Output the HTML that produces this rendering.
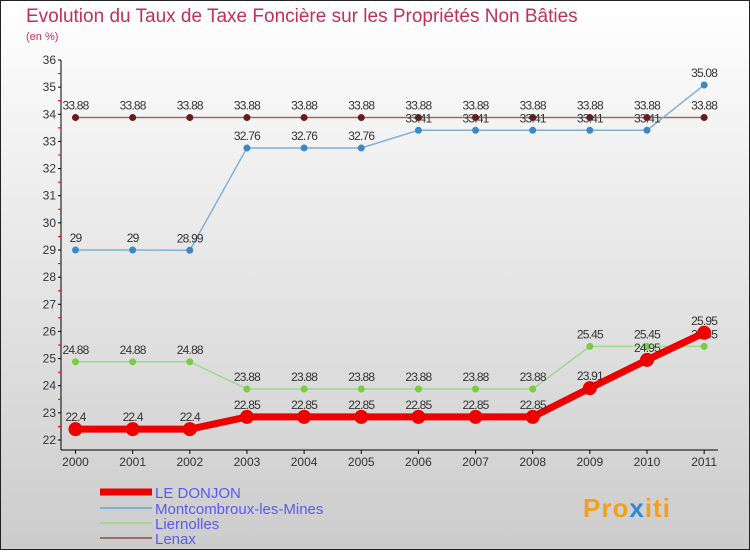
<!DOCTYPE html>
<html><head><meta charset="utf-8"><style>
body{margin:0;width:750px;height:550px;overflow:hidden;font-family:"Liberation Sans",sans-serif}
</style></head><body>
<svg width="750" height="550" xmlns="http://www.w3.org/2000/svg" font-family="Liberation Sans, sans-serif">
<defs><linearGradient id="bg" x1="0" y1="0" x2="0" y2="1"><stop offset="0" stop-color="#ffffff"/><stop offset="1" stop-color="#cccccc"/></linearGradient></defs>
<rect x="0.5" y="0.5" width="749" height="549" fill="url(#bg)" stroke="#222"/>
<text x="26" y="22" font-size="19" fill="#c0305a">Evolution du Taux de Taxe Foncière sur les Propriétés Non Bâties</text>
<text x="26" y="40" font-size="11" fill="#c0305a">(en %)</text>
<g id="axes"></g>
<g id="series"></g>
<g id="legend"></g>
<text x="583" y="517" font-size="26" font-weight="bold" fill="#f0a020" letter-spacing="1">Pro<tspan fill="#2a8ad8">x</tspan>iti</text>
</svg>
<script>
const years=[2000,2001,2002,2003,2004,2005,2006,2007,2008,2009,2010,2011];
const yTicks=[22,23,24,25,26,27,28,29,30,31,32,33,34,35,36];
const donjon=[22.4,22.4,22.4,22.85,22.85,22.85,22.85,22.85,22.85,23.91,24.95,25.95];
const montcombroux=[29,29,28.99,32.76,32.76,32.76,33.41,33.41,33.41,33.41,33.41,35.08];
const liernolles=[24.88,24.88,24.88,23.88,23.88,23.88,23.88,23.88,23.88,25.45,25.45,25.45];
const lenax=[33.88,33.88,33.88,33.88,33.88,33.88,33.88,33.88,33.88,33.88,33.88,33.88];
const NS="http://www.w3.org/2000/svg";
const X=i=>75.5+i*57.15;
const Y=v=>440-(v-22)*(380/14);
function mk(p,t,a){const e=document.createElementNS(NS,t);for(const k in a)e.setAttribute(k,a[k]);p.appendChild(e);return e;}
const ax=document.getElementById('axes');
let l=mk(ax,'line',{x1:61,y1:Y(36),x2:61,y2:450,stroke:'#000'});


l=mk(ax,'line',{x1:61,y1:450,x2:718,y2:450,stroke:'#000'});


yTicks.forEach(v=>{
 mk(ax,'line',{x1:58,y1:Y(v),x2:61,y2:Y(v),stroke:'#000'});
 if(v<36)mk(ax,'line',{x1:58,y1:Y(v+0.5),x2:61,y2:Y(v+0.5),stroke:'#e00'});
 const t=mk(ax,'text',{x:56,y:Y(v)+4,'font-size':12,fill:'#333','text-anchor':'end'});
 t.textContent=v;
 
 
});
years.forEach((y,i)=>{
 mk(ax,'line',{x1:X(i),y1:450,x2:X(i),y2:454,stroke:'#000'});
 const t=mk(ax,'text',{x:X(i),y:466,'font-size':12,fill:'#333','text-anchor':'middle'});
 t.textContent=y;
 
 
});
const sg=document.getElementById('series');
const fmt=v=>String(v);
function series(name,data,color,dot,w,r){
 const g=mk(sg,'g',{});
 
 
 const p=mk(g,'polyline',{points:data.map((v,i)=>X(i)+','+Y(v)).join(' '),fill:'none',stroke:color,'stroke-width':w,'stroke-linejoin':'round'});
 
 
 data.forEach((v,i)=>{
  const c=mk(g,'circle',{cx:X(i),cy:Y(v),r:r,fill:dot});
  
  
  const t=mk(g,'text',{x:X(i),y:Y(v)-8,'font-size':12,fill:'#333','text-anchor':'middle','letter-spacing':'-0.8'});
  t.textContent=fmt(v);
  
  
 });
}
series('lenax',lenax,'#9a6a6a','#6a1a1a',1.5,3.5);
series('liernolles',liernolles,'#a0d890','#7acc40',1.5,3.5);
series('montcombroux',montcombroux,'#80b0d8','#3a88c8',1.5,3.5);
series('le-donjon',donjon,'#ee0000','#ee0000',7,7);
const lg=document.getElementById('legend');
[['LE DONJON','#ee0000',7,492],['Montcombroux-les-Mines','#80b0d0',2,508],['Liernolles','#a0d890',2,523],['Lenax','#9a6a6a',2,538]].forEach(e=>{
 const g=mk(lg,'g',{});
 
 
 mk(g,'line',{x1:100,y1:e[3],x2:152,y2:e[3],stroke:e[1],'stroke-width':e[2]});
 const t=mk(g,'text',{x:155,y:e[3]+6,'font-size':15,fill:'#5a5af0'});
 t.textContent=e[0];
});
</script>
</body></html>
